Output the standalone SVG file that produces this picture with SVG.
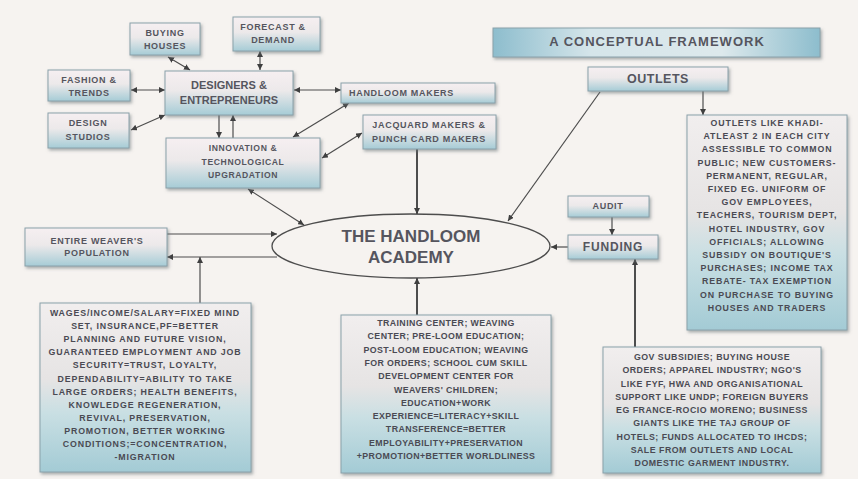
<svg xmlns="http://www.w3.org/2000/svg" width="858" height="479" viewBox="0 0 858 479">
<defs>
<linearGradient id="gBox" x1="0" y1="0" x2="0" y2="1">
<stop offset="0" stop-color="#f6eff1"/>
<stop offset="0.45" stop-color="#ece9ea"/>
<stop offset="1" stop-color="#a6ccd6"/>
</linearGradient>
<linearGradient id="gBig" x1="0" y1="0" x2="0" y2="1">
<stop offset="0" stop-color="#f1eeee"/>
<stop offset="0.45" stop-color="#e6e4e4"/>
<stop offset="0.65" stop-color="#c9dfe3"/>
<stop offset="1" stop-color="#a3cbd5"/>
</linearGradient>
<linearGradient id="gTitle" x1="0" y1="0" x2="1" y2="0">
<stop offset="0" stop-color="#8dbdcd"/>
<stop offset="0.3" stop-color="#d5e5ea"/>
<stop offset="0.7" stop-color="#dde9ec"/>
<stop offset="1" stop-color="#8dbdcd"/>
</linearGradient>
<filter id="sh" x="-10%" y="-10%" width="130%" height="140%">
<feDropShadow dx="1.5" dy="2" stdDeviation="1.5" flood-color="#6a7378" flood-opacity="0.55"/>
</filter>
<marker id="ah" viewBox="0 0 6 6" refX="6" refY="3" markerWidth="6" markerHeight="6" markerUnits="userSpaceOnUse" orient="auto-start-reverse">
<path d="M0,0 L6,3 L0,6 z" fill="#3f3f3f"/>
</marker>
</defs>
<style>
.bx{fill:url(#gBox);stroke:#8aa1aa;stroke-width:1;filter:url(#sh)}
.bg{fill:url(#gBig);stroke:#8aa1aa;stroke-width:1;filter:url(#sh)}
.t{font-family:"Liberation Sans",Arial,sans-serif;font-weight:bold;fill:#55555e;text-anchor:middle}
.s{font-size:9px;letter-spacing:0.7px}
.m{font-size:8.8px;fill:#4a4a53}
.c{stroke:#4d4d4d;stroke-width:1.2;fill:none}
.c2{stroke:#4d4d4d;stroke-width:2;fill:none}
</style>
<rect width="858" height="479" fill="#f6f3f0"/>

<g id="connectors">
<line class="c" x1="168" y1="57" x2="190" y2="70" marker-start="url(#ah)" marker-end="url(#ah)"/>
<line class="c" x1="260" y1="51" x2="260" y2="70" marker-start="url(#ah)" marker-end="url(#ah)"/>
<line class="c" x1="131" y1="90" x2="165" y2="90" marker-start="url(#ah)" marker-end="url(#ah)"/>
<line class="c" x1="131" y1="130" x2="165" y2="115" marker-start="url(#ah)" marker-end="url(#ah)"/>
<line class="c" x1="219" y1="115" x2="219" y2="138" marker-end="url(#ah)"/>
<line class="c" x1="233" y1="138" x2="233" y2="115" marker-end="url(#ah)"/>
<line class="c" x1="294" y1="90" x2="341" y2="90" marker-start="url(#ah)" marker-end="url(#ah)"/>
<line class="c" x1="349" y1="103" x2="293" y2="137" marker-start="url(#ah)" marker-end="url(#ah)"/>
<line class="c" x1="362" y1="133" x2="322" y2="158" marker-start="url(#ah)" marker-end="url(#ah)"/>
<line class="c" x1="248" y1="189" x2="304" y2="225" marker-start="url(#ah)" marker-end="url(#ah)"/>
<line class="c2" x1="417" y1="149" x2="417" y2="214" marker-end="url(#ah)"/>
<line class="c" x1="600" y1="92" x2="508" y2="221" marker-end="url(#ah)"/>
<line class="c" x1="703" y1="91" x2="703" y2="115" marker-end="url(#ah)"/>
<line class="c" x1="612" y1="217" x2="612" y2="235" marker-end="url(#ah)"/>
<line class="c" x1="568" y1="247" x2="551" y2="247" marker-end="url(#ah)"/>
<line class="c2" x1="635" y1="347" x2="635" y2="259" marker-end="url(#ah)"/>
<line class="c" x1="167" y1="234" x2="277" y2="234" marker-end="url(#ah)"/>
<line class="c" x1="277" y1="257" x2="167" y2="257" marker-end="url(#ah)"/>
<line class="c" x1="200" y1="303" x2="200" y2="257" marker-end="url(#ah)"/>
<line class="c2" x1="417" y1="315" x2="417" y2="278" marker-end="url(#ah)"/>
</g>

<g id="title">
<rect x="493" y="28" width="327" height="29" fill="url(#gTitle)" stroke="#8aa1aa" filter="url(#sh)"/>
<text class="t" x="657" y="46" font-size="13" letter-spacing="1" fill="#3d3d45">A CONCEPTUAL FRAMEWORK</text>
</g>

<g id="buying-houses">
<rect class="bx" x="130" y="23" width="70" height="32"/>
<text class="t s" x="165" y="36">BUYING</text>
<text class="t s" x="165" y="49">HOUSES</text>
</g>

<g id="forecast-demand">
<rect class="bx" x="233" y="17" width="87" height="34"/>
<text class="t s" x="273" y="30">FORECAST &amp;</text>
<text class="t s" x="273" y="43">DEMAND</text>
</g>

<g id="fashion-trends">
<rect class="bx" x="48" y="70" width="82" height="31"/>
<text class="t s" x="89" y="83">FASHION &amp;</text>
<text class="t s" x="89" y="96">TRENDS</text>
</g>

<g id="design-studios">
<rect class="bx" x="48" y="113" width="81" height="35"/>
<text class="t s" x="88" y="126">DESIGN</text>
<text class="t s" x="88" y="140">STUDIOS</text>
</g>

<g id="designers">
<rect class="bx" x="165" y="71" width="128" height="44"/>
<text class="t" x="229" y="89" font-size="11">DESIGNERS &amp;</text>
<text class="t" x="229" y="104" font-size="11">ENTREPRENEURS</text>
</g>

<g id="innovation">
<rect class="bx" x="166" y="138" width="154" height="50"/>
<text class="t" x="243" y="151" font-size="8.6" letter-spacing="0.6">INNOVATION &amp;</text>
<text class="t" x="243" y="165" font-size="8.6" letter-spacing="0.6">TECHNOLOGICAL</text>
<text class="t" x="243" y="178" font-size="8.6" letter-spacing="0.6">UPGRADATION</text>
</g>

<g id="handloom-makers">
<rect class="bx" x="341" y="83" width="154" height="20"/>
<text class="t s" x="349" y="96" style="text-anchor:start">HANDLOOM MAKERS</text>
</g>

<g id="jacquard-makers">
<rect class="bx" x="363" y="115" width="133" height="34"/>
<text class="t s" x="429" y="128">JACQUARD MAKERS &amp;</text>
<text class="t s" x="429" y="142">PUNCH CARD MAKERS</text>
</g>

<g id="outlets">
<rect class="bx" x="588" y="67" width="140" height="24"/>
<text class="t" x="658" y="83" font-size="12.5" letter-spacing="0.5" fill="#4a4a52">OUTLETS</text>
</g>

<g id="outlets-detail" letter-spacing="0.85">
<rect class="bg" x="687" y="115" width="160" height="215"/>
<text class="t m" x="767" y="126">OUTLETS LIKE KHADI-</text>
<text class="t m" x="767" y="139.2">ATLEAST 2 IN EACH CITY</text>
<text class="t m" x="767" y="152.4">ASSESSIBLE TO COMMON</text>
<text class="t m" x="767" y="165.6">PUBLIC; NEW CUSTOMERS-</text>
<text class="t m" x="767" y="178.8">PERMANENT, REGULAR,</text>
<text class="t m" x="767" y="192">FIXED EG. UNIFORM OF</text>
<text class="t m" x="767" y="205.2">GOV EMPLOYEES,</text>
<text class="t m" x="767" y="218.4">TEACHERS, TOURISM DEPT,</text>
<text class="t m" x="767" y="231.6">HOTEL INDUSTRY, GOV</text>
<text class="t m" x="767" y="244.8">OFFICIALS; ALLOWING</text>
<text class="t m" x="767" y="258">SUBSIDY ON BOUTIQUE'S</text>
<text class="t m" x="767" y="271.2">PURCHASES; INCOME TAX</text>
<text class="t m" x="767" y="284.4">REBATE- TAX EXEMPTION</text>
<text class="t m" x="767" y="297.6">ON PURCHASE TO BUYING</text>
<text class="t m" x="767" y="310.8">HOUSES AND TRADERS</text>
</g>

<g id="handloom-academy">
<ellipse cx="411" cy="246" rx="139" ry="32" fill="#f6f3f0" stroke="#4d4d4d" stroke-width="1.3"/>
<text class="t" x="411" y="242" font-size="17" fill="#3b4160">THE HANDLOOM</text>
<text class="t" x="411" y="263" font-size="17" fill="#3b4160">ACADEMY</text>
</g>

<g id="audit">
<rect class="bx" x="568" y="196" width="81" height="21"/>
<text class="t s" x="608" y="209">AUDIT</text>
</g>

<g id="funding">
<rect class="bx" x="568" y="235" width="90" height="24"/>
<text class="t" x="613" y="251" font-size="12" letter-spacing="0.8" fill="#4a4a52">FUNDING</text>
</g>

<g id="weavers-population">
<rect class="bx" x="25" y="228" width="142" height="38"/>
<text class="t s" x="97" y="244">ENTIRE WEAVER'S</text>
<text class="t s" x="97" y="256">POPULATION</text>
</g>

<g id="wages-box" letter-spacing="0.85">
<rect class="bg" x="40" y="303" width="211" height="169"/>
<text class="t m" x="145" y="316">WAGES/INCOME/SALARY=FIXED MIND</text>
<text class="t m" x="145" y="329.1">SET, INSURANCE,PF=BETTER</text>
<text class="t m" x="145" y="342.2">PLANNING AND FUTURE VISION,</text>
<text class="t m" x="145" y="355.3">GUARANTEED EMPLOYMENT AND JOB</text>
<text class="t m" x="145" y="368.4">SECURITY=TRUST, LOYALTY,</text>
<text class="t m" x="145" y="381.5">DEPENDABILITY=ABILITY TO TAKE</text>
<text class="t m" x="145" y="394.6">LARGE ORDERS; HEALTH BENEFITS,</text>
<text class="t m" x="145" y="407.7">KNOWLEDGE REGENERATION,</text>
<text class="t m" x="145" y="420.8">REVIVAL, PRESERVATION,</text>
<text class="t m" x="145" y="433.9">PROMOTION, BETTER WORKING</text>
<text class="t m" x="145" y="447">CONDITIONS;=CONCENTRATION,</text>
<text class="t m" x="145" y="460.1">-MIGRATION</text>
</g>

<g id="training-box" letter-spacing="0.4">
<rect class="bg" x="341" y="315" width="210" height="158"/>
<text class="t m" x="446" y="326">TRAINING CENTER; WEAVING</text>
<text class="t m" x="446" y="339.3">CENTER; PRE-LOOM EDUCATION;</text>
<text class="t m" x="446" y="352.6">POST-LOOM EDUCATION; WEAVING</text>
<text class="t m" x="446" y="365.9">FOR ORDERS; SCHOOL CUM SKILL</text>
<text class="t m" x="446" y="379.2">DEVELOPMENT CENTER FOR</text>
<text class="t m" x="446" y="392.5">WEAVERS' CHILDREN;</text>
<text class="t m" x="446" y="405.8">EDUCATION+WORK</text>
<text class="t m" x="446" y="419.1">EXPERIENCE=LITERACY+SKILL</text>
<text class="t m" x="446" y="432.4">TRANSFERENCE=BETTER</text>
<text class="t m" x="446" y="445.7">EMPLOYABILITY+PRESERVATION</text>
<text class="t m" x="446" y="459">+PROMOTION+BETTER WORLDLINESS</text>
</g>

<g id="funding-detail" letter-spacing="0.5">
<rect class="bg" x="603" y="347" width="218" height="126"/>
<text class="t m" x="712" y="360">GOV SUBSIDIES; BUYING HOUSE</text>
<text class="t m" x="712" y="373.25">ORDERS; APPAREL INDUSTRY; NGO'S</text>
<text class="t m" x="712" y="386.5">LIKE FYF, HWA AND ORGANISATIONAL</text>
<text class="t m" x="712" y="399.75">SUPPORT LIKE UNDP; FOREIGN BUYERS</text>
<text class="t m" x="712" y="413">EG FRANCE-ROCIO MORENO; BUSINESS</text>
<text class="t m" x="712" y="426.25">GIANTS LIKE THE TAJ GROUP OF</text>
<text class="t m" x="712" y="439.5">HOTELS; FUNDS ALLOCATED TO IHCDS;</text>
<text class="t m" x="712" y="452.75">SALE FROM OUTLETS AND LOCAL</text>
<text class="t m" x="712" y="466">DOMESTIC GARMENT INDUSTRY.</text>
</g>
</svg>
